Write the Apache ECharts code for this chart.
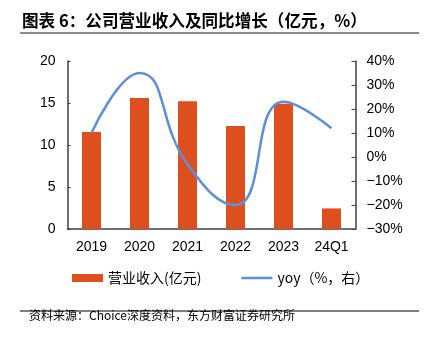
<!DOCTYPE html>
<html><head><meta charset="utf-8">
<script src="https://cdn.jsdelivr.net/npm/echarts@6/dist/echarts.min.js"></script>
<style>html,body{margin:0;padding:0;background:#fff}#c{width:425px;height:341px}</style>
</head><body><div id="c"></div>
<script>
const categories = ['2019','2020','2021','2022','2023','24Q1'];
const revenue = [11.55, 15.6, 15.2, 12.25, 14.9, 2.45];
const yoy = [10, 35, -3, -20, 23, 12];
const leftTicks = [0, 20, 5];
const rightTicks = [-30, 40, 10];
const CJK = '"Noto Sans CJK SC", sans-serif';
const LAT = '"Liberation Sans", Arial, sans-serif';
const chart = echarts.init(document.getElementById('c'), null, {renderer:'canvas'});
chart.setOption({
  animation:false,
  backgroundColor:'#fff',
  grid:{left:67.5, right:69.5, top:61, bottom:112},
  graphic:[
    {type:'text', left:22, top:12, style:{text:'图表 6：公司营业收入及同比增长（亿元，%）', font:'bold 16.6px '+CJK, fill:'#000'}},
    {type:'line', shape:{x1:20,y1:33,x2:419,y2:33}, style:{stroke:'#8c8c8c', lineWidth:2}},
    {type:'line', shape:{x1:20,y1:311,x2:419,y2:311}, style:{stroke:'#000', lineWidth:1}},
    {type:'text', left:29, top:309, style:{text:'资料来源：Choice深度资料，东方财富证券研究所', font:'12px '+CJK, fill:'#000'}}
  ],
  legend:{
    top:266, left:67, itemWidth:31, itemHeight:8, itemGap:40,
    textStyle:{fontSize:14, color:'#000', fontFamily:CJK},
    data:[{name:'营业收入(亿元)', icon:'rect'},{name:'yoy（%，右）', icon:'path://M0,0H31V2.5H0Z'}]
  },
  xAxis:{
    type:'category', data:categories,
    axisLine:{lineStyle:{color:'#404040', width:1.5}},
    axisTick:{inside:true, length:4, lineStyle:{color:'#404040'}},
    axisLabel:{fontSize:14, color:'#000', fontFamily:LAT, margin:11}
  },
  yAxis:[
    {type:'value', min:leftTicks[0], max:leftTicks[1], interval:leftTicks[2], splitLine:{show:false},
     axisLine:{show:true, lineStyle:{color:'#404040', width:1.5}},
     axisTick:{show:true, inside:true, length:3, lineStyle:{color:'#404040'}},
     axisLabel:{fontSize:14, color:'#000', fontFamily:LAT, margin:12}},
    {type:'value', min:rightTicks[0], max:rightTicks[1], interval:rightTicks[2], splitLine:{show:false},
     axisLine:{show:true, lineStyle:{color:'#404040', width:1.5}},
     axisTick:{show:true, inside:true, length:4, lineStyle:{color:'#404040'}},
     axisLabel:{fontSize:14, color:'#000', fontFamily:LAT, margin:11,
       formatter:v=>String(v).replace('-','\u2212')+'%'}}
  ],
  series:[
    {name:'营业收入(亿元)', type:'bar', data:revenue, barWidth:19, itemStyle:{color:'#DE4F1F'}},
    {name:'yoy（%，右）', type:'line', yAxisIndex:1, data:yoy, smooth:0.5, symbol:'none',
     lineStyle:{color:'#5B8FD8', width:2.5}, itemStyle:{color:'#5B8FD8'}}
  ]
});
</script></body></html>
